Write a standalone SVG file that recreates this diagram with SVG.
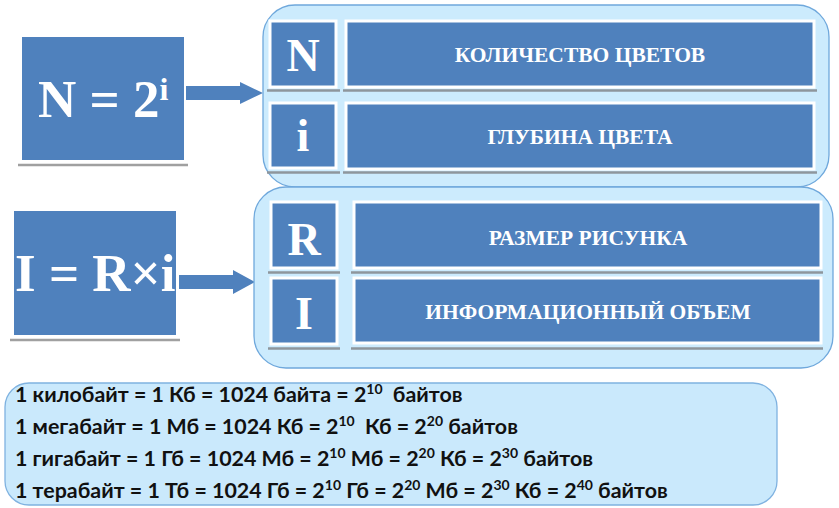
<svg xmlns="http://www.w3.org/2000/svg" width="839" height="508" viewBox="0 0 839 508">
<style>
.blue{fill:#4F81BD}
.wb{fill:#4F81BD;stroke:#FFFFFF;stroke-width:3}
.sh{stroke:#8E969C;stroke-width:2.5}
.cont{fill:#CCEBFD;stroke:#6FA8DC;stroke-width:1.3}
.big{font-family:"Liberation Serif","DejaVu Serif",serif;font-weight:bold;fill:#FFFFFF;font-size:53px}
.let{font-family:"Liberation Serif","DejaVu Serif",serif;font-weight:bold;fill:#FFFFFF;font-size:46px;text-anchor:middle}
.lab{font-family:"Liberation Serif","DejaVu Serif",serif;font-weight:bold;fill:#FFFFFF;font-size:21.5px;text-anchor:middle}
.ln{font-family:Lato,"Liberation Sans",sans-serif;font-weight:bold;fill:#111111;font-size:21.4px}
.sup{font-size:14px}
</style>
<rect width="839" height="508" fill="#FFFFFF"/>
<g id="formula-n">
<rect class="blue" x="22" y="37" width="162" height="123"/>
<line class="sh" x1="18" y1="165" x2="188" y2="165" style="stroke:#A0A0A0"/>
<text class="big" x="38" y="117">N = 2<tspan font-size="32" dy="-17">i</tspan></text>
</g>
<g id="formula-i">
<rect class="blue" x="14" y="211" width="162" height="124"/>
<line class="sh" x1="10" y1="340" x2="180" y2="340" style="stroke:#A0A0A0"/>
<text class="big" x="15" y="291">I = R×i</text>
</g>
<g id="connectors">
<path class="blue" d="M186,86 H240 V82 L263,93 L240,104 V100 H186 Z"/>
<path class="blue" d="M179,275 H233 V270 L255,282 L233,294 V289 H179 Z"/>
</g>
<g id="group-colors">
<rect class="cont" x="263" y="5" width="566" height="182" rx="32"/>
<g id="node-N">
<line class="sh" x1="267" y1="90.5" x2="340" y2="90.5"/>
<rect class="wb" x="270" y="21" width="66" height="66"/>
<text class="let" x="303" y="71">N</text>
</g>
<g id="node-count">
<line class="sh" x1="343" y1="90.5" x2="817" y2="90.5"/>
<rect class="wb" x="346" y="21" width="468" height="66"/>
<text class="lab" x="580" y="62">КОЛИЧЕСТВО ЦВЕТОВ</text>
</g>
<g id="node-i">
<line class="sh" x1="267" y1="172.5" x2="340" y2="172.5"/>
<rect class="wb" x="270" y="103" width="66" height="65"/>
<text class="let" x="303" y="151">i</text>
</g>
<g id="node-depth">
<line class="sh" x1="343" y1="172.5" x2="817" y2="172.5"/>
<rect class="wb" x="346" y="103" width="468" height="66"/>
<text class="lab" x="580" y="144">ГЛУБИНА ЦВЕТА</text>
</g>
</g>
<g id="group-volume">
<rect class="cont" x="254" y="187" width="579" height="181" rx="32"/>
<g id="node-R">
<line class="sh" x1="268" y1="272.5" x2="340" y2="272.5"/>
<rect class="wb" x="271" y="202" width="66" height="66"/>
<text class="let" x="304" y="255">R</text>
</g>
<g id="node-size">
<line class="sh" x1="351" y1="272.5" x2="823" y2="272.5"/>
<rect class="wb" x="354" y="202" width="467" height="66"/>
<text class="lab" x="588" y="245">РАЗМЕР РИСУНКА</text>
</g>
<g id="node-I">
<line class="sh" x1="268" y1="348.5" x2="340" y2="348.5"/>
<rect class="wb" x="271" y="278" width="66" height="66"/>
<text class="let" x="304" y="329">I</text>
</g>
<g id="node-volume">
<line class="sh" x1="351" y1="348.5" x2="823" y2="348.5"/>
<rect class="wb" x="354" y="278" width="467" height="65"/>
<text class="lab" x="588" y="319">ИНФОРМАЦИОННЫЙ ОБЪЕМ</text>
</g>
</g>
<g id="units">
<rect class="cont" x="5" y="383" width="772" height="122" rx="24" style="fill:#CAE9FC;stroke:#7FB2E0"/>
<text class="ln" x="15" y="402">1 килобайт = 1 Кб = 1024 байта = 2<tspan class="sup" dy="-8">10</tspan><tspan dy="8" dx="5"> байтов</tspan></text>
<text class="ln" x="15" y="434">1 мегабайт = 1 Мб = 1024 Кб = 2<tspan class="sup" dy="-8">10</tspan><tspan dy="8" dx="5"> Кб = 2</tspan><tspan class="sup" dy="-8">20</tspan><tspan dy="8"> байтов</tspan></text>
<text class="ln" x="15" y="466">1 гигабайт = 1 Гб = 1024 Мб = 2<tspan class="sup" dy="-8">10</tspan><tspan dy="8"> Мб = 2</tspan><tspan class="sup" dy="-8">20</tspan><tspan dy="8"> Кб = 2</tspan><tspan class="sup" dy="-8">30</tspan><tspan dy="8"> байтов</tspan></text>
<text class="ln" x="15" y="498">1 терабайт = 1 Тб = 1024 Гб = 2<tspan class="sup" dy="-8">10</tspan><tspan dy="8"> Гб = 2</tspan><tspan class="sup" dy="-8">20</tspan><tspan dy="8"> Мб = 2</tspan><tspan class="sup" dy="-8">30</tspan><tspan dy="8"> Кб = 2</tspan><tspan class="sup" dy="-8">40</tspan><tspan dy="8"> байтов</tspan></text>
</g>
</svg>
